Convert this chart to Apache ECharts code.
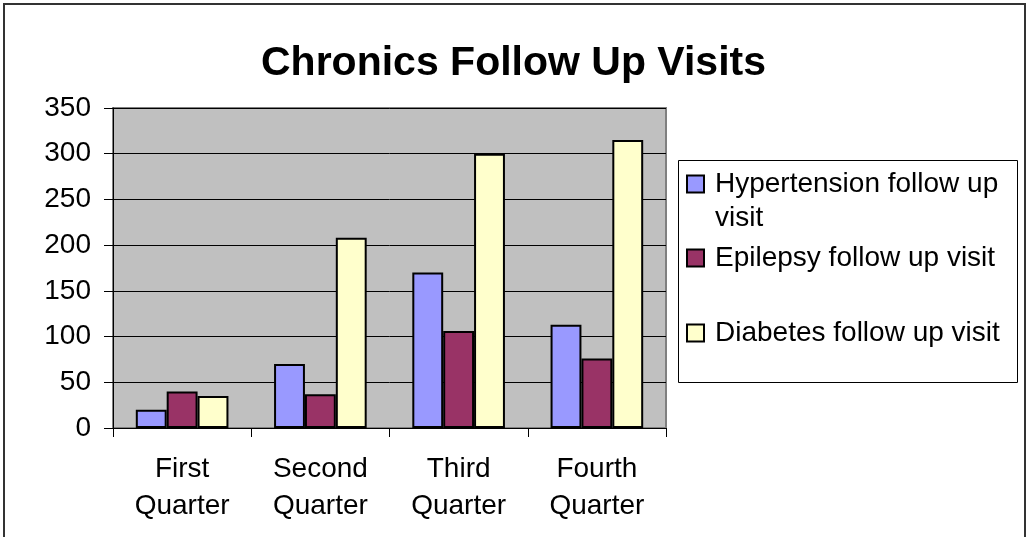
<!DOCTYPE html>
<html>
<head>
<meta charset="utf-8">
<script src="https://cdn.jsdelivr.net/npm/echarts@6/dist/echarts.min.js"></script>
<style>
html,body{margin:0;padding:0;background:#fff;}
#chart{width:1027px;height:537px;}
</style>
</head>
<body>
<div id="chart"></div>
<script>
var categories = ['First Quarter', 'Second Quarter', 'Third Quarter', 'Fourth Quarter'];
var hypertension = [20, 70, 170, 113];
var epilepsy = [40, 37, 106, 76];
var diabetes = [35, 208, 300, 315];
var seriesNames = ['Hypertension follow up visit', 'Epilepsy follow up visit', 'Diabetes follow up visit'];
var yTicks = [0, 50, 100, 150, 200, 250, 300, 350];

var FONT = '"Liberation Sans", Arial, sans-serif';
var chart = echarts.init(document.getElementById('chart'), null, {renderer: 'canvas'});

function legendAt(name, top, leadBlank) {
  return {
    data: [name],
    left: 686,
    top: top,
    padding: 0,
    orient: 'vertical',
    itemWidth: 17,
    itemHeight: 17,
    icon: 'rect',
    selectedMode: false,
    formatter: function (n) { return (leadBlank ? '\n' : '') + n; },
    textStyle: {
      fontFamily: FONT, fontSize: 28, color: '#000', lineHeight: 34,
      width: 300, overflow: 'break', padding: [0, 0, 0, 6]
    }
  };
}

function barSeries(name, data, color) {
  return {
    name: name,
    type: 'bar',
    data: data,
    barGap: '0%',
    barCategoryGap: '33%',
    itemStyle: {color: color, borderColor: '#000', borderWidth: 2}
  };
}

chart.setOption({
  animation: false,
  backgroundColor: '#fff',
  title: {
    text: 'Chronics Follow Up Visits',
    left: 'center',
    top: 38,
    textStyle: {fontFamily: FONT, fontSize: 41, fontWeight: 'bold', color: '#000'}
  },
  legend: [
    legendAt(seriesNames[0], 133, true),
    legendAt(seriesNames[1], 241, false),
    legendAt(seriesNames[2], 316, false)
  ],
  graphic: [
    {
      type: 'rect', z: -1,
      shape: {x: 678.5, y: 160.5, width: 339, height: 222},
      style: {fill: '#fff', stroke: '#000', lineWidth: 1}
    },
    {
      type: 'rect', z: 100,
      shape: {x: 4, y: 4, width: 1021, height: 600},
      style: {fill: 'none', stroke: '#333', lineWidth: 2}
    }
  ],
  grid: {
    left: 113, right: 361, top: 108, bottom: 109,
    show: true, backgroundColor: '#C0C0C0', borderColor: '#808080', borderWidth: 2
  },
  xAxis: {
    type: 'category',
    data: categories,
    boundaryGap: true,
    axisLine: {show: true, lineStyle: {color: '#000', width: 1}},
    axisTick: {show: true, length: 9, alignWithLabel: false, lineStyle: {color: '#000'}},
    axisLabel: {
      fontFamily: FONT, fontSize: 28, color: '#000', lineHeight: 37, margin: 23,
      interval: 0,
      formatter: function (v) { return v.replace(' ', '\n'); }
    },
    splitLine: {show: false}
  },
  yAxis: {
    type: 'value',
    min: yTicks[0],
    max: yTicks[yTicks.length - 1],
    interval: yTicks[1] - yTicks[0],
    axisLine: {show: true, lineStyle: {color: '#000', width: 1}},
    axisTick: {show: true, length: 9, lineStyle: {color: '#000'}},
    axisLabel: {fontFamily: FONT, fontSize: 28, color: '#000', margin: 22},
    splitLine: {show: true, lineStyle: {color: '#000', width: 1}}
  },
  series: [
    barSeries(seriesNames[0], hypertension, '#9999FF'),
    barSeries(seriesNames[1], epilepsy, '#993366'),
    barSeries(seriesNames[2], diabetes, '#FFFFCC')
  ]
});
</script>
</body>
</html>
